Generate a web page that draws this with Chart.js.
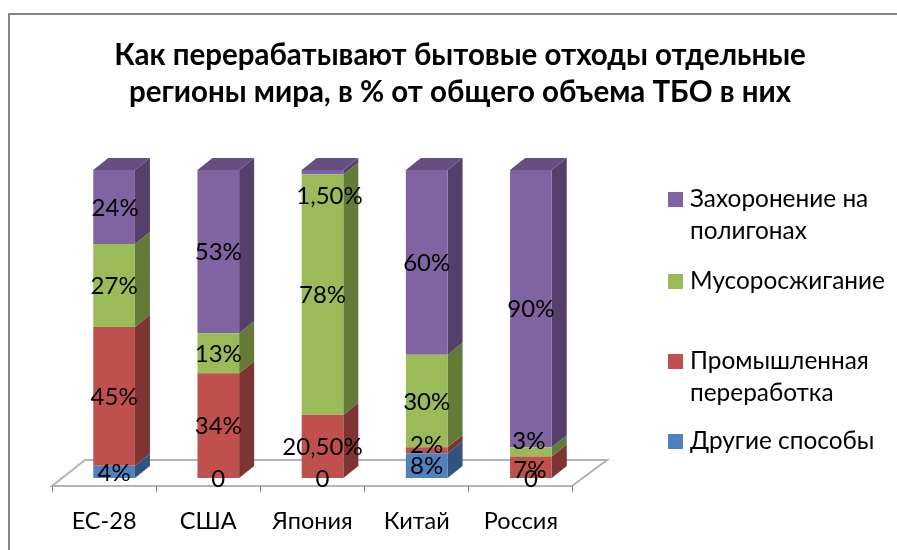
<!DOCTYPE html>
<html lang="ru">
<head>
<meta charset="utf-8">
<title>Переработка бытовых отходов</title>
<script src="https://cdn.jsdelivr.net/npm/chart.js@4"></script>
<style>
    html, body { margin: 0; padding: 0; background: #fff; }
    canvas { display: block; }
</style>
</head>
<body>
<canvas id="otkhodyCanvas" width="897" height="550"></canvas>
<script>
const titulo = ['Как перерабатывают бытовые отходы отдельные', 'регионы мира, в % от общего объема ТБО в них'];
const regiones = ['ЕС-28', 'США', 'Япония', 'Китай', 'Россия'];

const drugie = [4, 0, 0, 8, 0];
const promyshlennaya = [45, 34, 20.5, 2, 7];
const musor = [27, 13, 78, 30, 3];
const zakhoronenie = [24, 53, 1.5, 60, 90];

const FONT = 'Lato, "Noto Sans", sans-serif';

// cara, lado, tapa
const colores = {
    azul: ['#4F81BD', '#30547E', '#3A618F'],
    rojo: ['#C0504D', '#7E3432', '#923D3A'],
    verde: ['#9BBB59', '#647A39', '#758F43'],
    morado: ['#8064A2', '#54406A', '#654F82']
};

const DX = 15;
const DY = 12;

function etiqueta(v) {
    if (v === 0) return '0';
    if (Number.isInteger(v)) return v + '%';
    return v.toFixed(2).replace('.', ',') + '%';
}

function poligono(ctx, pts, fill) {
    ctx.beginPath();
    pts.forEach((p, i) => i ? ctx.lineTo(p[0], p[1]) : ctx.moveTo(p[0], p[1]));
    ctx.closePath();
    ctx.fillStyle = fill;
    ctx.fill();
}

const marco = {
    id: 'marco',
    beforeDraw(chart) {
        const ctx = chart.ctx;
        ctx.save();
        ctx.fillStyle = '#fff';
        ctx.fillRect(0, 0, chart.width, chart.height);
        ctx.strokeStyle = '#868686';
        ctx.lineWidth = 2;
        ctx.strokeRect(9, 14, chart.width + 20, chart.height + 20);
        ctx.restore();
    }
};

// el piso en perspectiva y las marcas del eje
const piso = {
    id: 'piso',
    beforeDatasetsDraw(chart) {
        const ctx = chart.ctx;
        const a = chart.chartArea;
        const frente = a.bottom + 8;
        const fondo = a.bottom - 18;
        const l = a.left - 10;
        const r = a.right - 11;
        ctx.save();
        ctx.strokeStyle = '#B4B4B4';
        ctx.lineWidth = 2;
        ctx.beginPath();
        ctx.moveTo(l, frente);
        ctx.lineTo(l + 33, fondo);
        ctx.lineTo(r + 35, fondo);
        ctx.lineTo(r, frente);
        ctx.closePath();
        ctx.stroke();
        ctx.strokeStyle = '#8C8C8C';
        ctx.lineWidth = 1;
        const paso = (r - l) / regiones.length;
        for (let i = 0; i <= regiones.length; i++) {
            const px = Math.round(l + paso * i) + 0.5;
            ctx.beginPath();
            ctx.moveTo(px, frente);
            ctx.lineTo(px, frente + 6);
            ctx.stroke();
        }
        ctx.restore();
    }
};

// lados y tapa de las columnas
const columnas3d = {
    id: 'columnas3d',
    beforeDatasetsDraw(chart) {
        const ctx = chart.ctx;
        ctx.save();
        chart.data.datasets.forEach((ds, d) => {
            chart.getDatasetMeta(d).data.forEach((bar, i) => {
                if (ds.data[i] === 0) return;
                const der = bar.x + bar.width / 2;
                const izq = bar.x - bar.width / 2;
                poligono(ctx, [[der, bar.base], [der + DX, bar.base - DY], [der + DX, bar.y - DY], [der, bar.y]], ds.lado);
                if (d === chart.data.datasets.length - 1) {
                    poligono(ctx, [[izq, bar.y], [izq + DX, bar.y - DY], [der + DX, bar.y - DY], [der, bar.y]], ds.tapa);
                }
            });
        });
        ctx.restore();
    }
};

// rótulos movidos a mano en el original: [serie, región, dx, dy]
const ajustes = [[1, 3, 0, -6], [2, 4, -2, -12], [3, 2, 7, 23], [1, 4, -1, 2], [3, 0, 1, 0]];

const rotulos = {
    id: 'rotulos',
    afterDatasetsDraw(chart) {
        const ctx = chart.ctx;
        ctx.save();
        ctx.font = '24px ' + FONT;
        ctx.fillStyle = '#000';
        ctx.textAlign = 'center';
        ctx.textBaseline = 'middle';
        chart.data.datasets.forEach((ds, d) => {
            chart.getDatasetMeta(d).data.forEach((bar, i) => {
                const aj = ajustes.find(q => q[0] === d && q[1] === i);
                const px = bar.x + (aj ? aj[2] : 0);
                const py = (bar.y + bar.base) / 2 + (aj ? aj[3] : 0) + 1;
                ctx.fillText(etiqueta(ds.data[i]), px, py);
            });
        });
        ctx.restore();
    }
};

const leyendaFilas = [
    { serie: 3, lineas: ['Захоронение на', 'полигонах'], y: 199 },
    { serie: 2, lineas: ['Мусоросжигание'], y: 281 },
    { serie: 1, lineas: ['Промышленная', 'переработка'], y: 361 },
    { serie: 0, lineas: ['Другие способы'], y: 441 }
];

const leyenda = {
    id: 'leyenda',
    afterDraw(chart) {
        const ctx = chart.ctx;
        ctx.save();
        ctx.font = '24.4px ' + FONT;
        ctx.textAlign = 'left';
        ctx.textBaseline = 'middle';
        leyendaFilas.forEach(f => {
            ctx.fillStyle = chart.data.datasets[f.serie].backgroundColor;
            ctx.fillRect(668, f.y - 7, 15, 15);
            ctx.fillStyle = '#000';
            f.lineas.forEach((t, i) => ctx.fillText(t, 690, f.y + i * 32));
        });
        ctx.restore();
    }
};

function serie(label, data, c) {
    return { label: label, data: data, backgroundColor: c[0], lado: c[1], tapa: c[2], borderWidth: 0, barPercentage: 0.4, categoryPercentage: 1 };
}

new Chart(document.getElementById('otkhodyCanvas').getContext('2d'), {
    type: 'bar',
    data: {
        labels: regiones,
        datasets: [
            serie('Другие способы', drugie, colores.azul),
            serie('Промышленная переработка', promyshlennaya, colores.rojo),
            serie('Мусоросжигание', musor, colores.verde),
            serie('Захоронение на полигонах', zakhoronenie, colores.morado)
        ]
    },
    options: {
        responsive: false,
        animation: false,
        layout: { padding: { left: 23 } },
        plugins: {
            legend: { display: false },
            tooltip: { enabled: false },
            title: {
                display: true,
                text: titulo,
                color: '#000',
                font: { family: FONT, size: 29.5, weight: 'bold', lineHeight: 1.254 },
                padding: { top: 37, bottom: 59 }
            }
        },
        scales: {
            x: {
                stacked: true,
                grid: { display: false },
                border: { display: false },
                ticks: { color: '#000', font: { family: FONT, size: 23.5 }, padding: 21, labelOffset: -10, maxRotation: 0 },
                afterFit: s => { s.height = 72; }
            },
            y: {
                stacked: true,
                min: 0,
                max: 100,
                grid: { display: false },
                border: { display: false },
                ticks: { display: false },
                afterFit: s => { s.width = 39; }
            },
            hueco: {
                type: 'linear',
                axis: 'y',
                position: 'right',
                grid: { display: false },
                border: { display: false },
                ticks: { display: false },
                afterFit: s => { s.width = 314; }
            }
        }
    },
    plugins: [marco, piso, columnas3d, rotulos, leyenda]
});
</script>
</body>
</html>
